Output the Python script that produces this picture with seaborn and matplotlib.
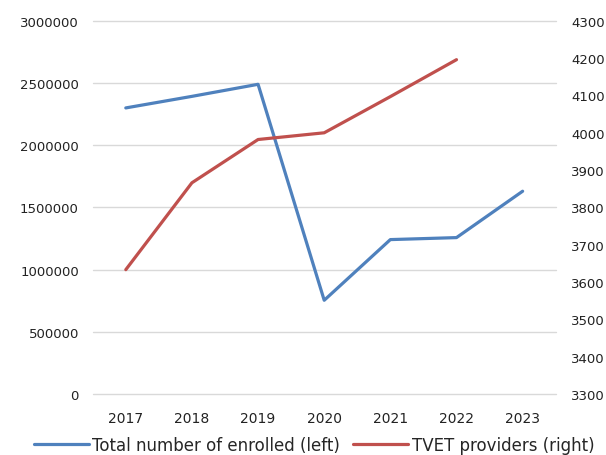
import numpy as np
import pandas as pd
import matplotlib
matplotlib.use("Agg")
import matplotlib.pyplot as plt
import seaborn as sns

years = [2017, 2018, 2019, 2020, 2021, 2022, 2023]
enrolled = [2300000, 2393000, 2490000, 753000, 1241000, 1257000, 1630000]
providers = [3633, 3866, 3982, 4000, 4097, 4196, np.nan]
left_ticks = [0, 500000, 1000000, 1500000, 2000000, 2500000, 3000000]
right_ticks = [3300, 3400, 3500, 3600, 3700, 3800, 3900, 4000, 4100, 4200, 4300]
label_left = "Total number of enrolled (left)"
label_right = "TVET providers (right)"

BLUE = "#4F81BD"
RED = "#C0504D"

sns.set_theme(style="white")
plt.rcParams['font.family'] = ['DejaVu Sans']

df = pd.DataFrame({"year": years, "enrolled": enrolled, "providers": providers})

fig = plt.figure(figsize=(6.06, 4.56), dpi=100)
ax = fig.add_axes([0.153, 0.134, 0.764, 0.818])
ax2 = ax.twinx()

sns.lineplot(data=df, x="year", y="enrolled", ax=ax, color=BLUE, linewidth=2.3,
             label=label_left, legend=False, solid_capstyle="round", solid_joinstyle="round")
sns.lineplot(data=df.dropna(), x="year", y="providers", ax=ax2, color=RED, linewidth=2.3,
             label=label_right, legend=False, solid_capstyle="round", solid_joinstyle="round")

ax.set_xlim(years[0] - 0.5, years[-1] + 0.5)
ax.set_ylim(0, 3000000)
ax2.set_ylim(3300, 4300)
ax.set_xticks(years)
ax.set_xticklabels([str(y) for y in years])
ax.set_yticks(left_ticks)
ax.set_yticklabels([str(v) for v in left_ticks])
ax2.set_yticks(right_ticks)
ax2.set_yticklabels([str(v) for v in right_ticks])

ax.grid(axis="y", color="#D9D9D9", linewidth=1.0)
for gl in ax.get_ygridlines():
    gl.set_clip_on(False)
ax.set_axisbelow(True)
for a in (ax, ax2):
    for s in a.spines.values():
        s.set_visible(False)
    a.set_xlabel("")
    a.set_ylabel("")
ax.tick_params(axis="x", length=0, pad=12, labelsize=10, colors="#222222")
ax.tick_params(axis="y", length=0, pad=10, labelsize=9.5, colors="#222222")
ax2.tick_params(axis="y", length=0, pad=11, labelsize=9.5, colors="#222222")

h1, l1 = ax.get_legend_handles_labels()
h2, l2 = ax2.get_legend_handles_labels()
fig.legend(h1 + h2, l1 + l2, loc="center", bbox_to_anchor=(0.518, 0.022), ncol=2,
           frameon=False, fontsize=12, handlelength=3.3, handletextpad=0.2,
           columnspacing=0.8, borderaxespad=0)

fig.savefig("out.png", dpi=100)
